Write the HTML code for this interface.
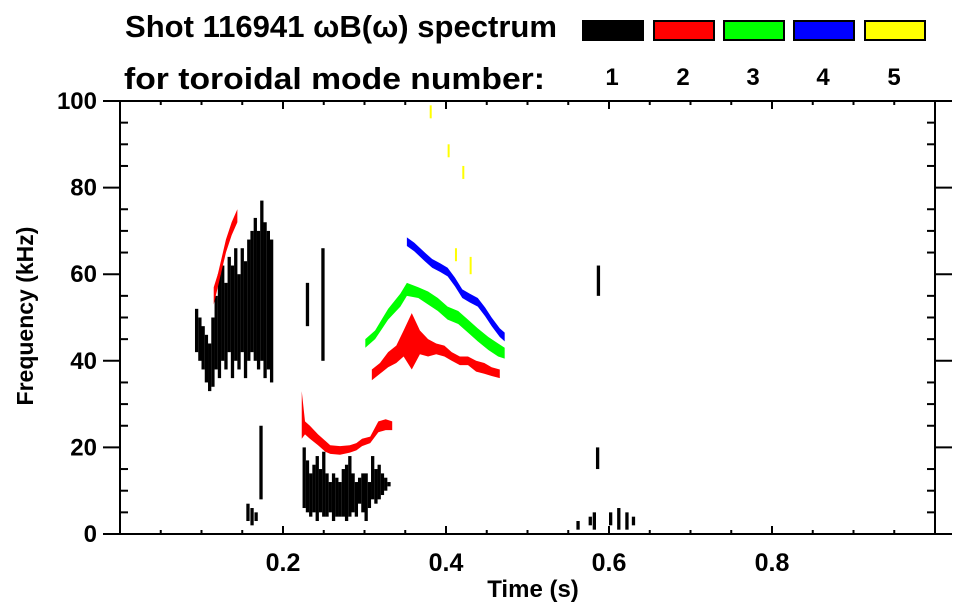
<!DOCTYPE html>
<html><head><meta charset="utf-8"><style>
body{margin:0;background:#fff}
svg{display:block;font-family:"Liberation Sans",sans-serif;font-weight:bold}
</style></head><body>
<svg id="c" width="963" height="615" viewBox="0 0 963 615">
<text x="125" y="37" font-size="31" textLength="432" lengthAdjust="spacingAndGlyphs">Shot 116941 ωB(ω) spectrum</text>
<text x="124" y="89" font-size="31" textLength="421" lengthAdjust="spacingAndGlyphs">for toroidal mode number:</text>
<g id="legend"></g>
<g id="marks"></g>
<g id="axes" stroke="#000" stroke-width="2"></g>
<text x="533" y="597" font-size="24" text-anchor="middle">Time (s)</text>
<text transform="translate(33,316) rotate(-90)" font-size="23" text-anchor="middle">Frequency (kHz)</text>
</svg>
<script>
const modeNames=["1","2","3","4","5"];
const modeColors=["#000000","#ff0000","#00ff00","#0000ff","#ffff00"];
const xTicks=[0.2,0.4,0.6,0.8];
const yTicks=[0,20,40,60,80,100];
// mode 1 vertical streaks: time, low freq, high freq
const m1T=[0.092,0.096,0.100,0.104,0.108,0.112,0.116,0.120,0.124,0.128,0.132,0.136,0.140,0.144,0.148,0.152,0.156,0.160,0.164,0.168,0.172,0.176,0.180,0.184,0.171,0.155,0.160,0.165,0.228,0.247,
0.224,0.228,0.232,0.236,0.240,0.244,0.248,0.252,0.256,0.260,0.264,0.268,0.272,0.276,0.280,0.284,0.288,0.292,0.296,0.300,0.304,0.308,0.312,0.316,0.320,0.324,0.328,
0.560,0.575,0.580,0.600,0.610,0.620,0.628,0.585,0.584];
const m1Lo=[42,40,38,35,33,34,38,36,40,38,42,36,40,38,42,36,40,42,40,38,40,36,38,35,8,3,2,3,48,40,
6,5,4,5,3,5,4,4,5,3,4,4,4,3,4,5,4,7,5,3,6,8,7,8,9,10,11,
1,2,1,2,1,1,2,55,15];
const m1Hi=[52,50,48,46,44,50,55,60,62,58,64,62,66,60,66,63,68,70,73,70,77,72,70,68,25,7,6,5,58,66,
20,17,14,16,18,15,19,14,12,14,13,12,15,16,18,14,12,13,14,14,12,18,15,16,14,13,12,
3,4,5,5,6,5,4,62,20];
const m2T=[0.115,0.120,0.125,0.130,0.137,0.144];
const m2Lo=[53,57,61,65,69,72];
const m2Hi=[57,60,64,68,72,75];
const m2bT=[0.223,0.227,0.233,0.243,0.252,0.258,0.270,0.282,0.290,0.297,0.307,0.317,0.326,0.334];
const m2bLo=[22,23,22,20.5,19,18.5,18.3,18.8,19.3,20.3,21,23.5,24,24];
const m2bHi=[33,26,25,23,21.5,20.5,20.3,20.5,21,22,22.5,26,26.5,26];
const m2cT=[0.309,0.319,0.329,0.339,0.348,0.358,0.368,0.378,0.388,0.398,0.407,0.417,0.427,0.437,0.447,0.456,0.466];
const m2cLo=[35.5,37,38.5,39.5,41,38,41.5,41,41.5,41,40,39,39,37.5,37,36.5,36];
const m2cHi=[38,39.5,42,43.5,47,51,47,45,44,43.5,42,41,41,40,39.5,38.5,38];
const m3T=[0.301,0.313,0.329,0.344,0.352,0.366,0.378,0.390,0.402,0.415,0.427,0.439,0.452,0.464,0.472];
const m3Lo=[43,45,49.5,52.5,55,54.5,53,51.5,49.5,48.5,46.5,44.5,42.5,41,40.5];
const m3Hi=[45,47,52,55.5,58,57,56,54.5,52.5,51.5,49.5,47.5,45.5,44,43];
const m4T=[0.352,0.361,0.374,0.383,0.393,0.402,0.411,0.420,0.429,0.439,0.448,0.456,0.466,0.472];
const m4Lo=[66.5,65.3,63,61.5,60.5,59.5,57.2,54.5,53.5,52.5,50.3,48,45.5,44.5];
const m4Hi=[68.5,67.3,65,63.5,62.5,61.5,59.2,56.5,55.5,54.5,52.3,50,47.5,46.5];
const m5T=[0.380,0.402,0.420,0.411,0.429];
const m5Lo=[96,87,82,63,60];
const m5Hi=[99,90,85,66,64];

const X=t=>120+815*t, Y=f=>534-4.33*f;
const NS="http://www.w3.org/2000/svg";
function mk(tag,parent,attrs){const e=document.createElementNS(NS,tag);for(const k in attrs)e.setAttribute(k,attrs[k]);parent.appendChild(e);return e;}
const marks=document.getElementById('marks'),axes=document.getElementById('axes'),legend=document.getElementById('legend');

function streaks(T,Lo,Hi,color,w,name){
  for(let i=0;i<T.length;i++){
    const r=mk('rect',marks,{x:X(T[i]),y:Y(Hi[i]),width:w,height:Y(Lo[i])-Y(Hi[i]),fill:color});
    
    
  }
}
function band(T,Lo,Hi,color,name){
  let p=T.map((t,i)=>X(t)+','+Y(Hi[i]));
  for(let i=T.length-1;i>=0;i--)p.push(X(T[i])+','+Y(Lo[i]));
  const g=mk('polygon',marks,{points:p.join(' '),fill:color});
  
  
}
streaks(m1T,m1Lo,m1Hi,modeColors[0],3.3,'mode1-streak');
band(m2T,m2Lo,m2Hi,modeColors[1],'mode2-early-band');
band(m2bT,m2bLo,m2bHi,modeColors[1],'mode2-valley-band');
band(m2cT,m2cLo,m2cHi,modeColors[1],'mode2-arc-band');
band(m3T,m3Lo,m3Hi,modeColors[2],'mode3-arc-band');
band(m4T,m4Lo,m4Hi,modeColors[3],'mode4-arc-band');
streaks(m5T,m5Lo,m5Hi,modeColors[4],2,'mode5-speck');

mk('rect',axes,{x:X(0),y:Y(100),width:X(1)-X(0),height:Y(0)-Y(100),fill:'none'});
for(let k=1;k<20;k++){
  const t=k*0.05,maj=k%4===0,len=maj?8:4;
  mk('line',axes,{x1:X(t),x2:X(t),y1:Y(0),y2:Y(0)-len});
  mk('line',axes,{x1:X(t),x2:X(t),y1:Y(100),y2:Y(100)+len});
}
for(let k=1;k<20;k++){
  const f=k*5;
  if(f%20===0)continue;
  mk('line',axes,{x1:X(0),x2:X(0)+8,y1:Y(f),y2:Y(f)});
  mk('line',axes,{x1:X(1),x2:X(1)-8,y1:Y(f),y2:Y(f)});
}
yTicks.forEach(f=>{
  mk('line',axes,{x1:X(0)-17,x2:X(0),y1:Y(f),y2:Y(f)});
  mk('line',axes,{x1:X(1),x2:X(1)+17,y1:Y(f),y2:Y(f)});
  const t=mk('text',document.getElementById('c'),{x:97,y:Y(f)+8,'font-size':24,'text-anchor':'end'});
  t.textContent=f;
  
  
});
xTicks.forEach(v=>{
  const t=mk('text',document.getElementById('c'),{x:X(v),y:571,'font-size':25,'text-anchor':'middle'});
  t.textContent=v.toFixed(1);
  
  
});
const lx=[582,653,723,793,864];
modeNames.forEach((n,i)=>{
  const r=mk('rect',legend,{x:lx[i]+1,y:21,width:60,height:19,fill:modeColors[i],stroke:'#000','stroke-width':2});
  
  
  const t=mk('text',legend,{x:lx[i]+30,y:85,'font-size':24,'text-anchor':'middle'});
  t.textContent=n;
  
  
});
</script>
</body></html>
